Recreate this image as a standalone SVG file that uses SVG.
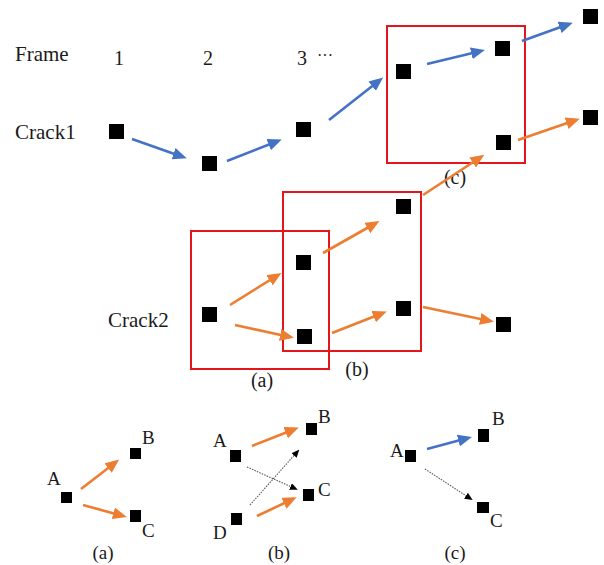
<svg xmlns="http://www.w3.org/2000/svg" width="604" height="565" viewBox="0 0 604 565" font-family="'Liberation Serif', 'Times New Roman', 'DejaVu Serif', serif">
  <defs>
    <style>
      text { font-family: 'Liberation Serif', 'Times New Roman', 'DejaVu Serif', serif; fill: #1a1a1a; }
      .lbl { font-size: 21px; }
      .num { font-size: 20px; text-anchor: middle; }
      .sub { font-size: 19px; }
      .cap { font-size: 20px; text-anchor: middle; }
      .node { fill: #000; }
      .win { fill: none; stroke: #e3161b; stroke-width: 2; }
      .blue { stroke: #4472c4; stroke-width: 2.6; fill: none; }
      .orange { stroke: #ed7d31; stroke-width: 2.6; fill: none; }
      .dot { stroke: #555; stroke-width: 1.1; stroke-dasharray: 1.5 1.2; fill: none; }
    </style>
    <marker id="hb" viewBox="0 0 14 12" refX="10" refY="6" markerWidth="14" markerHeight="12" markerUnits="userSpaceOnUse" orient="auto">
      <path d="M0,0 L14,6 L0,12 z" fill="#4472c4"/>
    </marker>
    <marker id="ho" viewBox="0 0 14 12" refX="10" refY="6" markerWidth="14" markerHeight="12" markerUnits="userSpaceOnUse" orient="auto">
      <path d="M0,0 L14,6 L0,12 z" fill="#ed7d31"/>
    </marker>
    <marker id="hk" viewBox="0 0 8 7" refX="6" refY="3.5" markerWidth="8" markerHeight="7" markerUnits="userSpaceOnUse" orient="auto">
      <path d="M0,0 L8,3.5 L0,7 z" fill="#000"/>
    </marker>
  </defs>

  <!-- row / column headings -->
  <g id="headings">
    <text class="lbl" x="15" y="61">Frame</text>
    <text class="num" x="119" y="65">1</text>
    <text class="num" x="208" y="65">2</text>
    <text class="num" x="302" y="65">3</text>
    <text class="lbl" x="317" y="61" style="font-size:16px">···</text>
    <text class="lbl" x="15" y="139">Crack1</text>
    <text class="lbl" x="108" y="327">Crack2</text>
  </g>

  <!-- search windows -->
  <g id="windows">
    <rect class="win" x="387" y="26" width="138" height="137"/>
    <rect class="win" x="283" y="192" width="138" height="159"/>
    <rect class="win" x="191" y="231" width="138" height="138"/>
    <text class="cap" x="455" y="184">(c)</text>
    <text class="cap" x="357" y="376">(b)</text>
    <text class="cap" x="262" y="387">(a)</text>
  </g>

  <!-- crack 1 track -->
  <g id="c1-f1"><rect class="node" x="109" y="124" width="15" height="15"/></g>
  <g id="c1-f2"><rect class="node" x="202" y="156" width="15" height="15"/></g>
  <g id="c1-f3"><rect class="node" x="296" y="122" width="15" height="15"/></g>
  <g id="c1-f4"><rect class="node" x="396" y="64" width="15" height="15"/></g>
  <g id="c1-f5"><rect class="node" x="495" y="41" width="15" height="15"/></g>
  <g id="c1-f6"><rect class="node" x="583" y="9" width="15" height="15"/></g>
  <g id="c1-f5b"><rect class="node" x="496" y="135" width="15" height="15"/></g>
  <g id="c1-f6b"><rect class="node" x="583" y="110" width="15" height="15"/></g>

  <!-- crack 2 track -->
  <g id="c2-f1"><rect class="node" x="202" y="307" width="15" height="15"/></g>
  <g id="c2-f2a"><rect class="node" x="296" y="255" width="15" height="15"/></g>
  <g id="c2-f2b"><rect class="node" x="297" y="329" width="15" height="15"/></g>
  <g id="c2-f3a"><rect class="node" x="396" y="199" width="15" height="15"/></g>
  <g id="c2-f3b"><rect class="node" x="396" y="301" width="15" height="15"/></g>
  <g id="c2-f4"><rect class="node" x="496" y="317" width="15" height="15"/></g>

  <!-- cases (a), (b), (c) -->
  <g id="case-a">
    <rect class="node" x="61" y="492" width="11" height="11"/>
    <rect class="node" x="130" y="448" width="11" height="11"/>
    <rect class="node" x="130" y="510" width="11" height="12"/>
    <text class="sub" x="47" y="485">A</text>
    <text class="sub" x="142" y="444">B</text>
    <text class="sub" x="142" y="537">C</text>
    <text class="sub" x="103" y="559" text-anchor="middle">(a)</text>
  </g>
  <g id="case-b">
    <rect class="node" x="230" y="450" width="11" height="12"/>
    <rect class="node" x="306" y="423" width="11" height="12"/>
    <rect class="node" x="303" y="489" width="11" height="12"/>
    <rect class="node" x="231" y="513" width="11" height="12"/>
    <text class="sub" x="213" y="447">A</text>
    <text class="sub" x="318" y="423">B</text>
    <text class="sub" x="318" y="496">C</text>
    <text class="sub" x="213" y="539">D</text>
    <text class="sub" x="279" y="559" text-anchor="middle">(b)</text>
  </g>
  <g id="case-c">
    <rect class="node" x="405" y="450" width="11" height="12"/>
    <rect class="node" x="478" y="429" width="11" height="13"/>
    <rect class="node" x="477" y="502" width="12" height="11"/>
    <text class="sub" x="390" y="457">A</text>
    <text class="sub" x="492" y="425">B</text>
    <text class="sub" x="490" y="527">C</text>
    <text class="sub" x="455" y="559" text-anchor="middle">(c)</text>
  </g>

  <!-- connectors -->
  <g id="connectors">
    <line class="blue" x1="132" y1="139" x2="183" y2="157" marker-end="url(#hb)"/>
    <line class="blue" x1="227" y1="161" x2="278" y2="141" marker-end="url(#hb)"/>
    <line class="blue" x1="329" y1="120" x2="380" y2="80" marker-end="url(#hb)"/>
    <line class="blue" x1="427" y1="64" x2="481" y2="51" marker-end="url(#hb)"/>
    <line class="blue" x1="522" y1="41" x2="569" y2="24" marker-end="url(#hb)"/>

    <line class="orange" x1="518" y1="140" x2="576" y2="120" marker-end="url(#ho)"/>
    <line class="orange" x1="423" y1="195" x2="481" y2="157" marker-end="url(#ho)"/>

    <line class="orange" x1="230" y1="305" x2="278" y2="275" marker-end="url(#ho)"/>
    <line class="orange" x1="235" y1="325" x2="290" y2="337" marker-end="url(#ho)"/>
    <line class="orange" x1="323" y1="253" x2="376" y2="223" marker-end="url(#ho)"/>
    <line class="orange" x1="332" y1="333" x2="383" y2="313" marker-end="url(#ho)"/>
    <line class="orange" x1="423" y1="307" x2="490" y2="321" marker-end="url(#ho)"/>

    <line class="orange" x1="81" y1="489" x2="116" y2="462" marker-end="url(#ho)"/>
    <line class="orange" x1="83" y1="505" x2="123" y2="516" marker-end="url(#ho)"/>

    <line class="orange" x1="252" y1="446" x2="295" y2="429" marker-end="url(#ho)"/>
    <line class="orange" x1="257" y1="516" x2="293" y2="499" marker-end="url(#ho)"/>
    <line class="dot" x1="247" y1="467" x2="296" y2="489" marker-end="url(#hk)"/>
    <line class="dot" x1="250" y1="505" x2="298" y2="451" marker-end="url(#hk)"/>

    <line class="blue" x1="427" y1="449" x2="468" y2="438" marker-end="url(#hb)"/>
    <line class="dot" x1="425" y1="469" x2="471" y2="499" marker-end="url(#hk)"/>
  </g>
</svg>
